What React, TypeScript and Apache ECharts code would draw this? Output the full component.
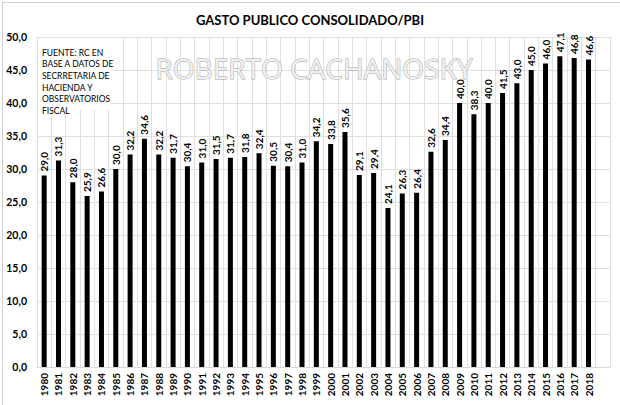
import React, { useEffect, useRef } from "react";
import * as echarts from "echarts";

const years = [
  "1980","1981","1982","1983","1984","1985","1986","1987","1988","1989",
  "1990","1991","1992","1993","1994","1995","1996","1997","1998","1999",
  "2000","2001","2002","2003","2004","2005","2006","2007","2008","2009",
  "2010","2011","2012","2013","2014","2015","2016","2017","2018",""
];
const gasto = [
  29.0, 31.3, 28.0, 25.9, 26.6, 30.0, 32.2, 34.6, 32.2, 31.7,
  30.4, 31.0, 31.5, 31.7, 31.8, 32.4, 30.5, 30.4, 31.0, 34.2,
  33.8, 35.6, 29.1, 29.4, 24.1, 26.3, 26.4, 32.6, 34.4, 40.0,
  38.3, 40.0, 41.5, 43.0, 45.0, 46.0, 47.1, 46.8, 46.6, null
];
const sourceLines = [
  "FUENTE: RC EN",
  "BASE A DATOS DE",
  "SECRRETARIA DE",
  "HACIENDA Y",
  "OBSERVATORIOS",
  "FISCAL"
];
const titleText = "GASTO PUBLICO CONSOLIDADO/PBI";
const watermark = "ROBERTO CACHANOSKY";

const fmt = (v: number) => v.toFixed(1).replace(".", ",");
const FONT = "Lato, 'Open Sans', sans-serif";

export default function App() {
  const ref = useRef<HTMLDivElement>(null);
  useEffect(() => {
    if (!ref.current) return;
    const chart = echarts.init(ref.current, null, { renderer: "svg" });
    chart.setOption({
      animation: false,
      backgroundColor: "#ffffff",
      title: {
        text: titleText,
        left: "center",
        top: 8,
        textStyle: { fontFamily: FONT, fontSize: 13, fontWeight: "bold", color: "#000" }
      },
      grid: { left: 37, right: 10, top: 37, bottom: 38 },
      xAxis: {
        type: "category",
        data: years,
        boundaryGap: true,
        axisLine: { show: true, lineStyle: { color: "#d9d9d9" } },
        axisTick: { show: false },
        splitLine: { show: true, interval: 0, lineStyle: { color: "#e0e0e0", width: 1 } },
        axisLabel: {
          interval: 0,
          rotate: 90,
          fontFamily: FONT,
          fontSize: 10,
          fontWeight: "bold",
          color: "#000",
          margin: 6
        }
      },
      yAxis: {
        type: "value",
        min: 0,
        max: 50,
        interval: 5,
        axisLine: { show: false },
        axisTick: { show: false },
        splitLine: { lineStyle: { color: "#e0e0e0", width: 1 } },
        axisLabel: {
          formatter: (v: number) => fmt(v),
          fontFamily: FONT,
          fontSize: 10.5,
          fontWeight: "bold",
          color: "#000",
          margin: 10
        }
      },
      series: [
        {
          type: "bar",
          data: gasto,
          barWidth: 5,
          itemStyle: { color: "#000000" },
          label: {
            show: true,
            position: "top",
            rotate: 90,
            align: "left",
            verticalAlign: "middle",
            distance: 4,
            formatter: (p: any) => fmt(p.value),
            fontFamily: FONT,
            fontSize: 10,
            fontWeight: "bold",
            color: "#000"
          }
        }
      ],
      graphic: [
        {
          type: "rect",
          left: 0,
          top: 0,
          z: 100,
          shape: { x: 0.5, y: 0.5, width: 619, height: 404 },
          style: { fill: "none", stroke: "#d0d0d0", lineWidth: 1 },
          silent: true
        },
        {
          type: "rect",
          left: 38,
          top: 38,
          z: 100,
          shape: { x: 0, y: 0, width: 73, height: 72 },
          style: { fill: "#ffffff" },
          silent: true
        },
        {
          type: "text",
          left: 42,
          top: 47,
          z: 101,
          style: {
            text: sourceLines.join("\n"),
            fontFamily: FONT,
            fontSize: 8.5,
            lineHeight: 11.6,
            fill: "#000"
          }
        },
        {
          type: "text",
          left: 155,
          top: 53.5,
          z: 100,
          style: {
            text: watermark,
            fontFamily: "'Open Sans', sans-serif",
            fontSize: 28,
            fill: "#f0f0f0",
            stroke: "#a8a8a8",
            lineWidth: 1
          },
          silent: true
        }
      ]
    });
    return () => chart.dispose();
  }, []);
  return (
    <div
      ref={ref}
      style={{ position: "fixed", left: 0, top: 0, width: 620, height: 405 }}
    />
  );
}
